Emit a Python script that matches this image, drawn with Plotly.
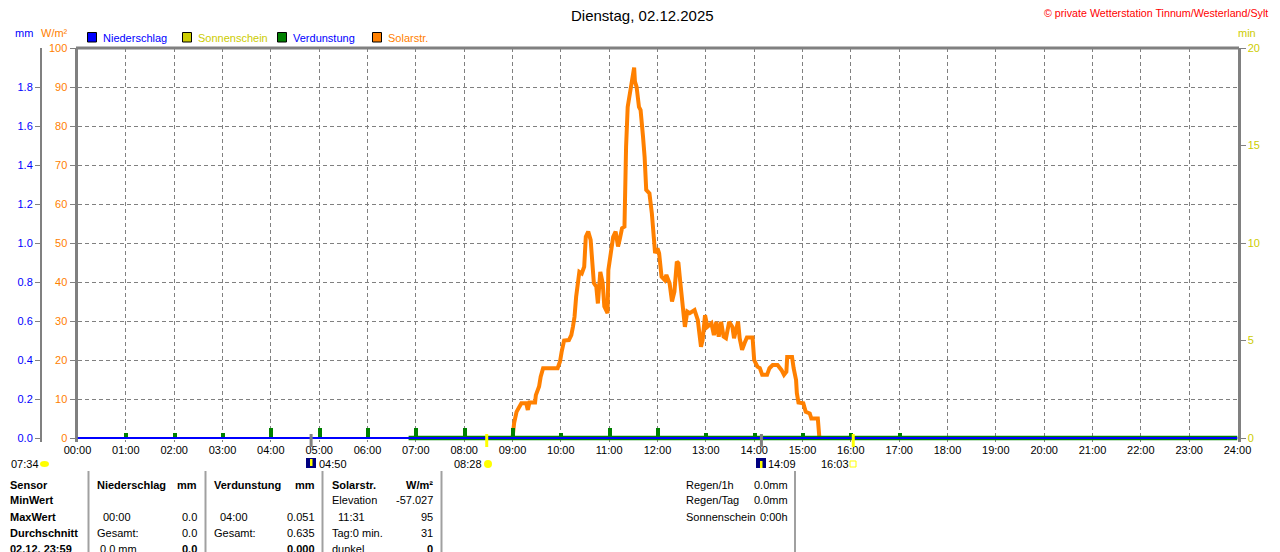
import plotly.graph_objects as go

# ---------------------------------------------------------------
#   data (Dienstag 02.12.2025)
# ---------------------------------------------------------------
solar_time = ["09:00", "09:02", "09:05", "09:11", "09:17", "09:19", "09:21", "09:28", "09:29", "09:33",
              "09:35", "09:38", "09:56", "09:59", "10:01", "10:04", "10:10", "10:13", "10:15", "10:17",
              "10:19", "10:21", "10:23", "10:26", "10:29", "10:31", "10:34", "10:37", "10:39", "10:41",
              "10:44", "10:46", "10:49", "10:52", "10:54", "10:58", "10:59", "11:02", "11:05", "11:08",
              "11:11", "11:13", "11:16", "11:19", "11:20", "11:21", "11:23", "11:26", "11:29", "11:31",
              "11:32", "11:34", "11:37", "11:39", "11:42", "11:44", "11:46", "11:50", "11:53", "11:55",
              "11:57", "12:00", "12:02", "12:05", "12:09", "12:11", "12:15", "12:18", "12:21", "12:24",
              "12:26", "12:28", "12:31", "12:34", "12:37", "12:40", "12:46", "12:50", "12:52", "12:54",
              "12:56", "12:59", "13:02", "13:07", "13:10", "13:13", "13:16", "13:19", "13:22", "13:25",
              "13:29", "13:33", "13:35", "13:40", "13:42", "13:45", "13:48", "13:51", "13:58", "14:00",
              "14:04", "14:07", "14:10", "14:16", "14:19", "14:23", "14:29", "14:34", "14:37", "14:40",
              "14:41", "14:47", "14:49", "14:52", "14:53", "14:55", "15:01", "15:04", "15:09", "15:11",
              "15:19", "15:20", "15:21"]
solar_wm2 = [0, 3.8, 6.7, 8.9, 8.9, 7.2, 9.1, 9.1, 11.0, 13.2,
             15.7, 17.9, 17.9, 19.6, 22.1, 25.0, 25.1, 26.4, 28.5, 31.1,
             36.2, 38.8, 42.6, 42.2, 43.9, 51.6, 52.9, 50.8, 44.8, 39.7,
             38.8, 34.5, 42.6, 39.7, 33.7, 32.0, 43.1, 48.2, 51.6, 52.9,
             49.1, 50.8, 53.8, 54.2, 69.6, 74.7, 84.9, 88.4, 92.6, 95.0,
             91.4, 90.1, 84.9, 84.1, 77.3, 72.1, 63.6, 62.7, 57.6, 52.9,
             47.4, 48.6, 47.4, 41.4, 40.5, 41.8, 39.7, 35.0, 37.5, 45.2,
             44.8, 40.5, 34.1, 28.5, 32.4, 32.0, 32.8, 30.3, 26.8, 23.4,
             25.1, 31.5, 28.5, 29.4, 26.4, 29.8, 26.0, 29.8, 26.0, 25.6,
             29.8, 28.5, 25.6, 29.8, 25.6, 22.6, 24.3, 25.8, 25.8, 20.0,
             18.3, 17.9, 16.2, 16.2, 17.9, 18.7, 18.7, 17.4, 16.2, 17.0,
             20.8, 20.8, 17.9, 14.9, 11.5, 9.1, 8.9, 6.7, 6.3, 5.0,
             5.0, 2.0, 0]

evap_time = ["01:00", "02:00", "03:00", "04:00", "05:00", "06:00", "07:00", "08:00", "09:00",
             "10:00", "11:00", "12:00", "13:00", "14:00", "15:00", "16:00", "17:00"]
evap_mm = [0.025, 0.025, 0.025, 0.051, 0.051, 0.051, 0.051, 0.051, 0.051,
           0.025, 0.051, 0.051, 0.025, 0.025, 0.025, 0.025, 0.025]
evap_base_time = ["06:51", "24:00"]
evap_base_mm = [0, 0]

hours = ["%02d:00" % h for h in range(25)]
rain_mm = [0.0] * 25
sun_min = [0] * 25

day_length = "07:34"
moon_rise = "04:50"
sun_rise = "08:28"
moon_set = "14:09"
sun_set = "16:03"

mm_ticks = [0.0, 0.2, 0.4, 0.6, 0.8, 1.0, 1.2, 1.4, 1.6, 1.8]
wm2_ticks = [0, 10, 20, 30, 40, 50, 60, 70, 80, 90, 100]
min_ticks = [0, 5, 10, 15, 20]

sensor_labels = ["Sensor", "MinWert", "MaxWert", "Durchschnitt", "02.12. 23:59"]
rain_left = ["Niederschlag", "", "00:00", "Gesamt:", "0.0 mm"]
rain_right = ["mm", "", "0.0", "0.0", "0.0"]
evap_left = ["Verdunstung", "", "04:00", "Gesamt:", ""]
evap_right = ["mm", "", "0.051", "0.635", "0.000"]
solar_left = ["Solarstr.", "Elevation", "11:31", "Tag:0 min.", "dunkel"]
solar_right = ["W/m²", "-57.027", "95", "31", "0"]
summary_labels = ["Regen/1h", "Regen/Tag", "Sonnenschein"]
summary_values = ["0.0mm", "0.0mm", "0:00h"]

# ---------------------------------------------------------------
#   geometry helpers (screen pixel -> paper)
#   the page body has an 8px margin, so every screen coordinate
#   is shifted back by 8px
# ---------------------------------------------------------------
OFF = 8
W, H = 1280, 552 - OFF
ML, MR, MT, MB = 2, 2, 48 - OFF, 552 - 442
FONT = "Liberation Sans, Arial, sans-serif"
GRAY = "#808080"
ORANGE = "#FF8000"
BLUE = "#0000FF"
GREEN = "#008000"
OLIVE = "#CCCC00"


def px(x):
    return (x - OFF - ML) / (W - ML - MR)


def py(y):
    return (H - MB - (y - OFF)) / (H - MT - MB)


def hrs(s):
    return int(s[:2]) + int(s[3:]) / 60.0


# the zero line sits 4 px above the bottom of the plot area
pad = 4 / 390.0

fig = go.Figure()

fig.add_trace(go.Scatter(x=[hrs(t) for t in solar_time], y=solar_wm2, mode="lines",
                         line=dict(color=ORANGE, width=4), yaxis="y", showlegend=False))
fig.add_trace(go.Bar(x=[hrs(t) for t in evap_time], y=evap_mm, width=0.08,
                     marker=dict(color=GREEN, line_width=0), yaxis="y2", showlegend=False))
fig.add_trace(go.Scatter(x=[hrs(t) for t in evap_base_time], y=evap_base_mm, mode="lines",
                         line=dict(color=GREEN, width=4.5), yaxis="y2", showlegend=False))
fig.add_trace(go.Scatter(x=[hrs(t) for t in hours], y=rain_mm, mode="lines",
                         line=dict(color=BLUE, width=2), yaxis="y2", showlegend=False))
fig.add_trace(go.Bar(x=[hrs(t) for t in hours], y=sun_min, width=0.5,
                     marker=dict(color=OLIVE, line_width=0), yaxis="y3", showlegend=False))

fig.update_layout(
    width=W, height=H,
    margin=dict(l=ML, r=MR, t=MT, b=MB, autoexpand=False),
    paper_bgcolor="white", plot_bgcolor="white",
    font=dict(family=FONT, size=11, color="black"),
    bargap=0,
    xaxis=dict(domain=[px(77.5), px(1237.5)], range=[0, 24], automargin=False,
               tickvals=[hrs(t) for t in hours], ticktext=hours,
               ticks="", showline=False, zeroline=False,
               showgrid=True, gridcolor=GRAY, gridwidth=1, griddash="4px,3px",
               tickfont=dict(size=11, color="black")),
    yaxis=dict(range=[-100 * pad, 100], tickvals=wm2_ticks, ticktext=[str(v) for v in wm2_ticks],
               automargin=False, ticks="outside", ticklen=5, tickcolor=GRAY, tickwidth=1,
               showline=True, linecolor=GRAY, linewidth=3, zeroline=False,
               showgrid=True, gridcolor=GRAY, gridwidth=1, griddash="4px,3px",
               tickfont=dict(size=11, color=ORANGE), layer="below traces"),
    yaxis2=dict(range=[-2 * pad, 2.0], overlaying="y", anchor="free", position=px(41), side="left",
                tickvals=mm_ticks, ticktext=["%.1f" % v for v in mm_ticks], automargin=False,
                ticks="outside", ticklen=5, tickcolor=GRAY, tickwidth=1,
                showline=True, linecolor=GRAY, linewidth=2, zeroline=False, showgrid=False,
                tickfont=dict(size=11, color=BLUE)),
    yaxis3=dict(range=[-20 * pad, 20], overlaying="y", anchor="x", side="right",
                tickvals=min_ticks, ticktext=[str(v) for v in min_ticks], automargin=False,
                ticks="outside", ticklen=5, tickcolor=GRAY, tickwidth=1,
                showline=True, linecolor=GRAY, linewidth=3, zeroline=False, showgrid=False,
                tickfont=dict(size=11, color=OLIVE)),
)

shapes = []
annos = []


def text(s, x, y, color="black", size=11, anchor="left"):
    annos.append(dict(text=s, x=px(x), y=py(y), xref="paper", yref="paper",
                      xanchor=anchor, yanchor="middle", showarrow=False,
                      font=dict(family=FONT, size=size, color=color)))


def rect(x0, y0, x1, y1, fill, line=None, kind="rect"):
    shapes.append(dict(type=kind, xref="paper", yref="paper",
                       x0=px(x0), x1=px(x1), y0=py(y1), y1=py(y0),
                       fillcolor=fill, line=dict(color=line or fill, width=1 if line else 0)))


# top border of the plot box
shapes.append(dict(type="line", xref="paper", yref="paper", x0=px(76), x1=px(1239),
                   y0=py(48), y1=py(48), line=dict(color=GRAY, width=3)))

# title / header
text("Dienstag, 02.12.2025", 642, 16, size=15, anchor="center")
text("© private Wetterstation Tinnum/Westerland/Sylt", 1270, 13, color="#FF0000", size=10.7,
     anchor="right")
text("mm", 13, 33, color=BLUE)
text("W/m²", 39, 33, color=ORANGE)
text("min", 1236, 33, color=OLIVE)

# legend
legend = [("Niederschlag", BLUE, BLUE, 87.5), ("Sonnenschein", OLIVE, OLIVE, 182.5),
          ("Verdunstung", GREEN, BLUE, 277.5), ("Solarstr.", ORANGE, ORANGE, 372.5)]
for name, fill, tcol, x0 in legend:
    rect(x0, 32.5, x0 + 9, 42, fill, line="black")
    text(name, x0 + 13, 37.5, color=tcol)

# sun / moon event markers under the time axis
for t, col in [(moon_rise, GRAY), (moon_set, GRAY), (sun_rise, "#FFFF00"), (sun_set, "#FFFF00")]:
    shapes.append(dict(type="line", xref="x", yref="paper", x0=hrs(t), x1=hrs(t),
                       y0=py(447), y1=py(434), line=dict(color=col, width=3)))

text(day_length, 9, 464)
rect(40, 461, 49, 467, "#FFFF00", kind="circle")
rect(306, 458, 316, 468, "#000080")
rect(310, 459, 312.5, 466, "#FFFF00")
text(moon_rise, 317, 464)
text(sun_rise, 452, 464)
rect(484, 460, 492, 468, "#FFFF00", kind="circle")
rect(756, 458, 766, 468, "#000080")
rect(760, 461, 762.5, 468, "#FFFF00")
text(moon_set, 766, 464)
text(sun_set, 819, 464)
shapes.append(dict(type="rect", xref="paper", yref="paper", x0=px(850), x1=px(856),
                   y0=py(467), y1=py(461), line=dict(color="#FFFF00", width=1)))

# statistics table
for xs in [88.5, 205.5, 322.5, 441.5, 795]:
    shapes.append(dict(type="line", xref="paper", yref="paper", x0=px(xs), x1=px(xs),
                       y0=py(471), y1=py(556), line=dict(color="#A0A0A0", width=2)))

rows_y = [484.5, 500.5, 516.5, 532.5, 548.5]
for i, y in enumerate(rows_y):
    text("<b>%s</b>" % sensor_labels[i], 8, y)
    cols = [(rain_left, rain_right, 95, 198.5, [0, 0, 6, 0, 3]),
            (evap_left, evap_right, 212, 316.5, [0, 0, 6, 0, 0]),
            (solar_left, solar_right, 330, 434.5, [0, 0, 6, 0, 0])]
    for left, right, xl, xr, ind in cols:
        bold_l = i == 0
        bold_r = i == 0 or i == 4
        if left[i]:
            text("<b>%s</b>" % left[i] if bold_l else left[i], xl + ind[i], y)
        if right[i]:
            text("<b>%s</b>" % right[i] if bold_r else right[i], xr, y, anchor="right")

for i, lab in enumerate(summary_labels):
    text(lab, 684, rows_y[i])
    text(summary_values[i], 789.5, rows_y[i], anchor="right")

fig.update_layout(shapes=shapes, annotations=annos)
fig.write_html("out.html")
